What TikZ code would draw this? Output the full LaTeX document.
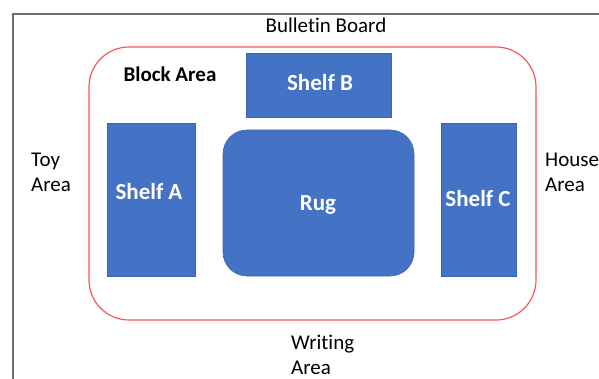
\documentclass[tikz,border=0pt]{standalone}
\usepackage{fontspec}
\setmainfont[Ligatures=NoCommon]{Carlito}
\definecolor{shelfblue}{RGB}{68,114,196}
\definecolor{shelfedge}{RGB}{60,100,175}
\definecolor{zonered}{RGB}{250,85,95}
\definecolor{wallgrey}{RGB}{110,110,110}
\tikzset{
  furniture/.style={fill=shelfblue, draw=shelfedge, line width=0.6pt},
  furnlabel/.style={text=white, font=\fontsize{23}{27}\selectfont\bfseries, anchor=base, inner sep=0pt},
  arealabel/.style={font=\fontsize{21}{25}\selectfont, align=left, anchor=base west, inner sep=0pt},
}
\begin{document}
\begin{tikzpicture}[x=1pt, y=-1pt]
\useasboundingbox (0,0) rectangle (599,379);
% walls
\draw[wallgrey, line width=1.6pt] (13,379) -- (13,14) -- (599,14);
% block area outline
\draw[zonered, line width=1.2pt, rounded corners=40pt] (89,47) rectangle (536,320);
% furniture
\path[furniture] (246,53) rectangle (391,117);
\path[furniture] (107,123) rectangle (195,276);
\path[furniture] (441,123) rectangle (516,276);
\path[furniture, rounded corners=24pt] (223,130) rectangle (414,276);
\node[furnlabel] (shelfB) at (320,91) {Shelf B};
\node[furnlabel] (shelfA) at (149,200) {Shelf A};
\node[furnlabel] (shelfC) at (478,207) {Shelf C};
\node[furnlabel] (rug) at (318,211) {Rug};
% area labels (base anchor sits on the last line)
\node[font=\fontsize{21}{25}\selectfont, anchor=base, inner sep=0pt] (board) at (326,33) {Bulletin Board};
\node[font=\fontsize{21}{25}\selectfont\bfseries, anchor=base, inner sep=0pt] (block) at (170,82) {Block Area};
\node[arealabel] (toy) at (31,192) {Toy\\Area};
\node[arealabel] (house) at (545,192) {House\\Area};
\node[arealabel] (writing) at (291,374) {Writing\\Area};
\end{tikzpicture}
\end{document}
